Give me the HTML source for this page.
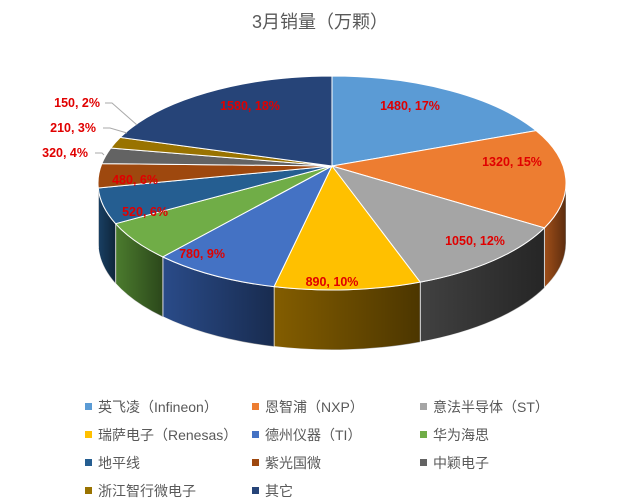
<!DOCTYPE html>
<html><head><meta charset="utf-8"><style>
body{margin:0;background:#fff;width:640px;height:501px;overflow:hidden;font-family:"Liberation Sans","Noto Sans CJK SC",sans-serif}
.lg{position:absolute;font-size:14px;color:#595959;white-space:nowrap}
.lg i{display:inline-block;width:7px;height:7px;margin-right:6px;vertical-align:2px}
</style></head><body>
<svg id="s" width="640" height="501" style="position:absolute;left:0;top:0">
<defs>
<linearGradient id="sh" x1="0" x2="1" y1="0" y2="0">
<stop offset="0" stop-color="#000" stop-opacity="0.05"/><stop offset="1" stop-color="#000" stop-opacity="0.45"/></linearGradient>
</defs>
<text x="320" y="28" text-anchor="middle" font-size="18" fill="#595959" font-family="Liberation Sans,Noto Sans CJK SC,sans-serif">3月销量（万颗）</text>
<g id="g"></g>
</svg>
<script>
var d=[[1480,"#5B9BD5","#3f75a8"],[1320,"#ED7D31","#a8521a"],[1050,"#A5A5A5","#444"],[890,"#FFC000","#8a6200"],[780,"#4472C4","#2c4f90"],[520,"#70AD47","#4f8230"],[480,"#255E91","#1a4369"],[320,"#9E480E","#6b2f08"],[210,"#636363","#444"],[150,"#997300","#6b5000"],[1580,"#264478","#1a2f55"]];
var T=0;d.forEach(function(x){T+=x[0]});
var cx=332,cy=183,rx=234,ry=107,ax=332,ay=166,D=60,ns="http://www.w3.org/2000/svg",g=document.getElementById("g");
function P(t,dy){return [cx+rx*Math.sin(t),cy-ry*Math.cos(t)+(dy||0)]}
function add(p,f,st){var e=document.createElementNS(ns,"path");e.setAttribute("d",p);e.setAttribute("fill",f);if(st){e.setAttribute("stroke",st);e.setAttribute("stroke-width","1");}g.appendChild(e);}
var a=0,sl=[];d.forEach(function(x){var b=a+x[0]/T*2*Math.PI;sl.push([a,b,x]);a=b;});
sl.forEach(function(s){var a0=Math.max(s[0],Math.PI/2),b0=Math.min(s[1],3*Math.PI/2);if(b0>a0){var p=P(a0),q=P(b0),q2=P(b0,D),p2=P(a0,D);
var path="M"+p+" A"+rx+" "+ry+" 0 0 1 "+q+" L"+q2+" A"+rx+" "+ry+" 0 0 0 "+p2+"Z";add(path,s[2][2],"#fff");add(path,"url(#sh)");}});
sl.forEach(function(s){var p=P(s[0]),q=P(s[1]),l=(s[1]-s[0])>Math.PI?1:0;add("M"+ax+","+ay+" L"+p+" A"+rx+" "+ry+" 0 "+l+" 1 "+q+"Z",s[2][1],"#fff");});
var L=[["1480, 17%",410,110],["1320, 15%",512,166],["1050, 12%",475,245],["890, 10%",332,286],["780, 9%",202,258],["520, 6%",145,216],["480, 6%",135,184],["1580, 18%",250,110],["150, 2%",100,107,"end"],["210, 3%",96,132,"end"],["320, 4%",88,157,"end"]];
[[100,103,137,125],[98,128,127,133],[90,153,104,155]].forEach(function(l){var e=document.createElementNS(ns,"polyline");e.setAttribute("points",l[0]+5+","+l[1]+" "+(l[0]+12)+","+l[1]+" "+l[2]+","+l[3]);e.setAttribute("fill","none");e.setAttribute("stroke","#aaa");g.appendChild(e);});
L.forEach(function(l){var e=document.createElementNS(ns,"text");e.setAttribute("x",l[1]);e.setAttribute("y",l[2]);e.setAttribute("text-anchor",l[3]||"middle");e.setAttribute("font-size","12.5");e.setAttribute("font-weight","bold");e.setAttribute("fill","#e00000");e.setAttribute("font-family","Liberation Sans,sans-serif");e.textContent=l[0];g.appendChild(e);});
</script>
<div class="lg" style="left:85px;top:397px"><i style="background:#5B9BD5"></i>英飞凌（Infineon）</div>
<div class="lg" style="left:252px;top:397px"><i style="background:#ED7D31"></i>恩智浦（NXP）</div>
<div class="lg" style="left:420px;top:397px"><i style="background:#A5A5A5"></i>意法半导体（ST）</div>
<div class="lg" style="left:85px;top:425px"><i style="background:#FFC000"></i>瑞萨电子（Renesas）</div>
<div class="lg" style="left:252px;top:425px"><i style="background:#4472C4"></i>德州仪器（TI）</div>
<div class="lg" style="left:420px;top:425px"><i style="background:#70AD47"></i>华为海思</div>
<div class="lg" style="left:85px;top:453px"><i style="background:#255E91"></i>地平线</div>
<div class="lg" style="left:252px;top:453px"><i style="background:#9E480E"></i>紫光国微</div>
<div class="lg" style="left:420px;top:453px"><i style="background:#636363"></i>中颖电子</div>
<div class="lg" style="left:85px;top:481px"><i style="background:#997300"></i>浙江智行微电子</div>
<div class="lg" style="left:252px;top:481px"><i style="background:#264478"></i>其它</div>
</body></html>
